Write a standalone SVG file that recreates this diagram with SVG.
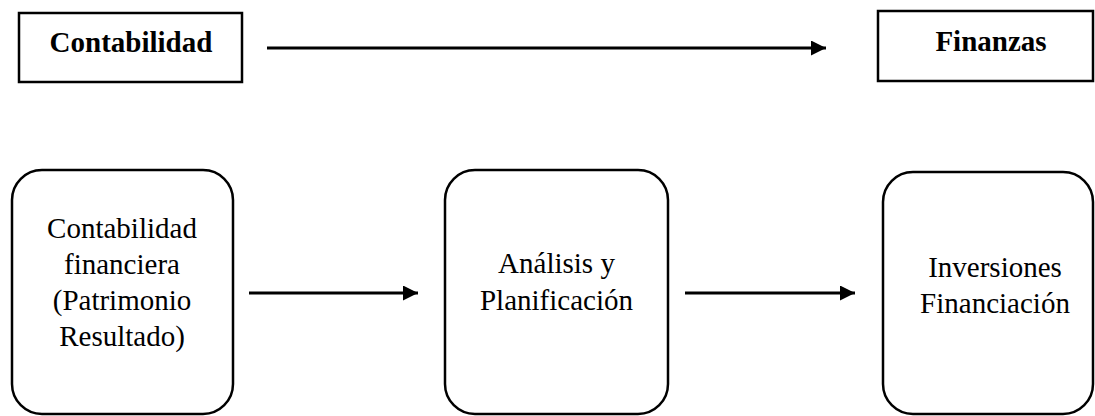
<svg xmlns="http://www.w3.org/2000/svg" width="1095" height="416" viewBox="0 0 1095 416">
<style>
.box{fill:#fff;stroke:#000;stroke-width:2.5}
.t{font-family:"Liberation Serif","Times New Roman",serif;font-size:29px;fill:#000;text-anchor:middle}
.b{font-weight:bold}
.c{stroke:#000;stroke-width:3;fill:none}
</style>
<defs>
<marker id="ah" markerUnits="userSpaceOnUse" markerWidth="16" markerHeight="16" refX="15" refY="7.5" orient="auto">
<path d="M0,0 L15,7.5 L0,15 Z" fill="#000"/>
</marker>
</defs>
<rect width="1095" height="416" fill="#fff"/>
<g id="contabilidad">
<rect class="box" x="19" y="13" width="223" height="69"/>
<text class="t b" x="131" y="52">Contabilidad</text>
</g>
<g id="finanzas">
<rect class="box" x="878" y="11" width="215" height="70"/>
<text class="t b" x="991" y="51">Finanzas</text>
</g>
<g id="contabilidad-financiera">
<rect class="box" x="12" y="170" width="221" height="244" rx="30" ry="30"/>
<text class="t" x="122" y="238">Contabilidad</text>
<text class="t" x="122" y="274">financiera</text>
<text class="t" x="122" y="310">(Patrimonio</text>
<text class="t" x="122" y="346">Resultado)</text>
</g>
<g id="analisis">
<rect class="box" x="445" y="170" width="223" height="244" rx="30" ry="30"/>
<text class="t" x="556.5" y="273">Análisis y</text>
<text class="t" x="556.5" y="310">Planificación</text>
</g>
<g id="inversiones">
<rect class="box" x="883" y="172" width="210" height="242" rx="30" ry="30"/>
<text class="t" x="995" y="277">Inversiones</text>
<text class="t" x="995" y="313">Financiación</text>
</g>
<g id="connectors">
<line class="c" x1="267" y1="48" x2="826" y2="48" marker-end="url(#ah)"/>
<line class="c" x1="249" y1="293" x2="418" y2="293" marker-end="url(#ah)"/>
<line class="c" x1="685" y1="293" x2="855" y2="293" marker-end="url(#ah)"/>
</g>
</svg>
